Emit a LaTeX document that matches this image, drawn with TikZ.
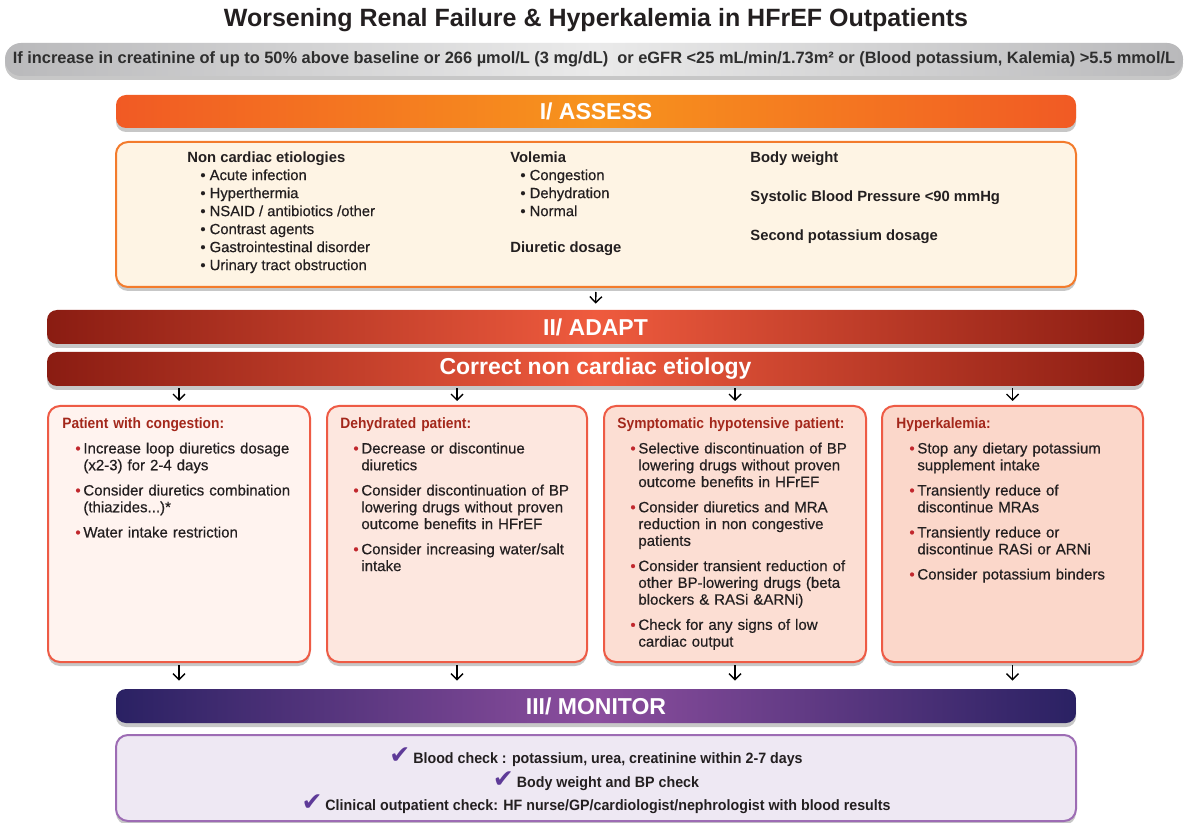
\documentclass[tikz,border=0pt]{standalone}
\usepackage{fontspec}
\setmainfont{Liberation Sans}
\newfontfamily\medfont{Liberation Sans}[FakeBold=0.5]
\newfontfamily\condfont{Liberation Sans}[FakeStretch=0.92]
\newfontfamily\monfont{Liberation Sans}[FakeStretch=0.95]
\newfontfamily\symfont{DejaVu Sans}
\usetikzlibrary{fit,shadows,arrows.meta}
\definecolor{ink}{HTML}{231F20}
\definecolor{grayink}{HTML}{2E2E2E}
\definecolor{grayend}{HTML}{B9B9BB}
\definecolor{graymid}{HTML}{EAEAEA}
\definecolor{orend}{HTML}{F15A24}
\definecolor{ormid}{HTML}{F7941D}
\definecolor{redend}{HTML}{8A1C12}
\definecolor{redmid}{HTML}{EF5B3E}
\definecolor{purend}{HTML}{2A2163}
\definecolor{purmid}{HTML}{8C4E9E}
\definecolor{cream}{HTML}{FEF4E4}
\definecolor{assborder}{HTML}{F37B2C}
\definecolor{boxborder}{HTML}{EE5B45}
\definecolor{fillA}{HTML}{FFF3EF}
\definecolor{fillB}{HTML}{FDE7DF}
\definecolor{fillC}{HTML}{FCDED3}
\definecolor{fillD}{HTML}{FBD7CA}
\definecolor{titlered}{HTML}{A3271B}
\definecolor{bulletred}{HTML}{C1272D}
\definecolor{monfill}{HTML}{EEE8F3}
\definecolor{monborder}{HTML}{9D6CB4}
\definecolor{checkcol}{HTML}{5E3A98}
\newcommand\bitem[1]{\par\noindent\hangindent=10.5pt\hangafter=1\makebox[10.5pt][l]{\hspace{6.5pt}\textcolor{bulletred}{\textbullet}}#1\par}
\newcommand\boxtitle[1]{{\condfont\bfseries\color{titlered}#1}\par}
\newcommand\chk{{\symfont\fontsize{12.5}{10}\selectfont\textcolor{checkcol}{✔}}\hspace{1.5pt}}
\tikzset{
  softshadow/.style={drop shadow={shadow xshift=0pt,shadow yshift=-2pt,opacity=0.22,fill=black}},
  bar/.style={inner sep=0pt, rounded corners=5pt, softshadow},
  graybar/.style={bar, left color=grayend, right color=grayend, middle color=graymid, rounded corners=8pt},
  orbar/.style={bar, left color=orend, right color=orend, middle color=ormid},
  redbar/.style={bar, left color=redend, right color=redend, middle color=redmid},
  purbar/.style={bar, left color=purend, right color=purend, middle color=purmid},
  bartext/.style={text=white, font=\bfseries\fontsize{11.5}{12}\selectfont},
  panel/.style={inner sep=0pt, rounded corners=6pt, line width=1pt, softshadow},
  stepbox/.style={panel, draw=boxborder},
  boxtext/.style={anchor=north west, inner sep=0pt, text width=124pt, align=left, text=ink,
    font=\medfont\fontsize{7.5}{8.4}\selectfont},
  asstext/.style={anchor=north west, inner sep=0pt, align=left, text=ink,
    font=\medfont\fontsize{7.4}{9}\selectfont},
  arr/.style={-{Straight Barb[length=3pt,width=6pt]}, line width=0.7pt, black},
}
\begin{document}
\begin{tikzpicture}[x=0.5pt,y=-0.5pt]
\useasboundingbox[fill=white] (0,0) rectangle (1188,823);

% title
\node[text=ink, font=\bfseries\fontsize{12.5}{14}\selectfont] (title) at (596,20) {Worsening Renal Failure \& Hyperkalemia in HFrEF Outpatients};

% gray condition bar
\node[graybar, fit={(5,43) (1183,76)}] (cond) {};
\node[text=grayink, font=\bfseries\fontsize{8.2}{9}\selectfont] at (cond) {If increase in creatinine of up to 50\% above baseline or 266 µmol/L (3 mg/dL)\ \ or eGFR <25 mL/min/1.73m² or (Blood potassium, Kalemia) >5.5 mmol/L};

% I/ ASSESS
\node[orbar, fit={(116,95) (1076,128)}] (assessbar) {};
\node[bartext] at (assessbar) {I/ ASSESS};

\node[panel, draw=assborder, fill=cream, fit={(116,142) (1076,287)}] (assess) {};
\node[asstext] (c1) at (187,151) {{\normalfont\bfseries Non cardiac etiologies}\\
\hspace*{6.5pt}• Acute infection\\
\hspace*{6.5pt}• Hyperthermia\\
\hspace*{6.5pt}• NSAID / antibiotics /other\\
\hspace*{6.5pt}• Contrast agents\\
\hspace*{6.5pt}• Gastrointestinal disorder\\
\hspace*{6.5pt}• Urinary tract obstruction};
\node[asstext] (c2) at (510,151) {{\normalfont\bfseries Volemia}\\
\hspace*{5pt}• Congestion\\
\hspace*{5pt}• Dehydration\\
\hspace*{5pt}• Normal\\[9pt]
{\normalfont\bfseries Diuretic dosage}};
\node[asstext, font=\bfseries\fontsize{7.4}{9}\selectfont] (c3) at (750,151) {Body weight\\[10.5pt]
Systolic Blood Pressure <90 mmHg\\[10.5pt]
Second potassium dosage};

% II/ ADAPT
\node[redbar, fit={(47,310) (1144,344)}] (adapt) {};
\node[bartext] at (adapt) {II/ ADAPT};
\node[redbar, fit={(47,352) (1144,386)}] (correct) {};
\node[bartext] at (correct) {Correct non cardiac etiology};

\draw[arr, shorten <=2pt, shorten >=3pt] (assess.south) -- (adapt.north);

% four boxes
\node[stepbox, fill=fillA, fit={(48,406) (310,662)}] (b1) {};
\node[stepbox, fill=fillB, fit={(327,406) (587,662)}] (b2) {};
\node[stepbox, fill=fillC, fit={(604,406) (866,662)}] (b3) {};
\node[stepbox, fill=fillD, fit={(882,406) (1143,662)}] (b4) {};

\node[boxtext] (t1) at (62,417) {\setlength\parskip{4.2pt}%
\boxtitle{Patient with congestion:}
\bitem{Increase loop diuretics dosage\newline (x2-3) for 2-4 days}
\bitem{Consider diuretics combination\newline (thiazides...)*}
\bitem{Water intake restriction}};
\node[boxtext] (t2) at (340,417) {\setlength\parskip{4.2pt}%
\boxtitle{Dehydrated patient:}
\bitem{Decrease or discontinue\newline diuretics}
\bitem{Consider discontinuation of BP\newline lowering drugs without proven\newline outcome benefits in HFrEF}
\bitem{Consider increasing water/salt\newline intake}};
\node[boxtext] (t3) at (617,417) {\setlength\parskip{4.2pt}%
\boxtitle{Symptomatic hypotensive patient:}
\bitem{Selective discontinuation of BP\newline lowering drugs without proven\newline outcome benefits in HFrEF}
\bitem{Consider diuretics and MRA\newline reduction in non congestive\newline patients}
\bitem{Consider transient reduction of\newline other BP-lowering drugs (beta\newline blockers \& RASi \&ARNi)}
\bitem{Check for any signs of low\newline cardiac output}};
\node[boxtext] (t4) at (896,417) {\setlength\parskip{4.2pt}%
\boxtitle{Hyperkalemia:}
\bitem{Stop any dietary potassium\newline supplement intake}
\bitem{Transiently reduce of\newline discontinue MRAs}
\bitem{Transiently reduce or\newline discontinue RASi or ARNi}
\bitem{Consider potassium binders}};

% III/ MONITOR
\node[purbar, fit={(116,689) (1076,723)}] (monitor) {};
\node[bartext] at (monitor) {III/ MONITOR};
\node[panel, draw=monborder, fill=monfill, fit={(116,735) (1076,821)}] (mon) {};
\node[text=ink, align=center, inner sep=0pt, font=\monfont\bfseries\fontsize{7.5}{11.8}\selectfont] (montext) at (596,781) {%
\chk Blood check : potassium, urea, creatinine within 2-7 days\\
\chk Body weight and BP check\\
\chk Clinical outpatient check: HF nurse/GP/cardiologist/nephrologist with blood results};

\foreach \b in {b1,b2,b3,b4}{
  \draw[arr, shorten <=1pt, shorten >=2pt] (\b.north |- correct.south) -- (\b.north);
  \draw[arr, shorten <=1pt, shorten >=4pt] (\b.south) -- (\b.south |- monitor.north);
}
\end{tikzpicture}
\end{document}
